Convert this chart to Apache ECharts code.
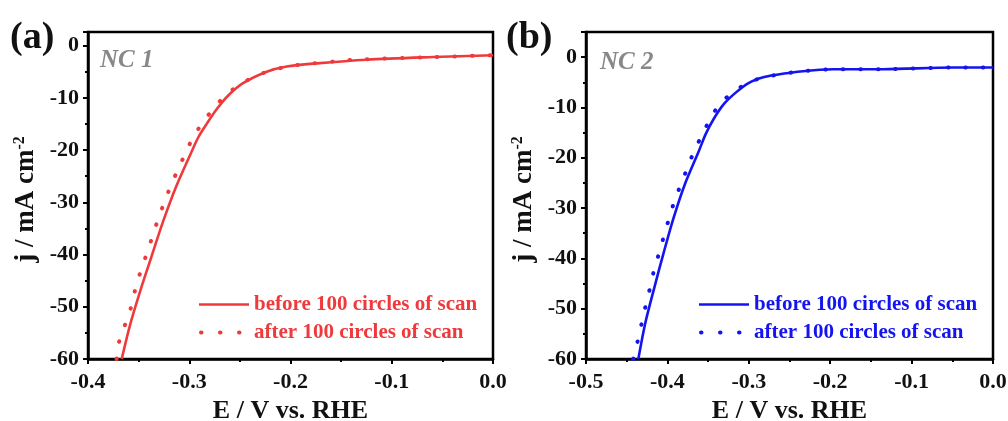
<!DOCTYPE html>
<html lang="en">
<head>
    <meta charset="UTF-8">
    <title>HER stability NC 1 / NC 2</title>
    <script src="https://cdn.jsdelivr.net/npm/echarts@6/dist/echarts.min.js"></script>
</head>
<body style="margin:0;background:#fff;">
<div id="main" style="width: 1008px;height:421px;"></div>
<script type="text/javascript">
    // NC 1, before 100 circles (solid)
    var nc1BeforeE = [-0.3667, -0.3585, -0.3483, -0.3373, -0.3259, -0.3134, -0.2988, -0.2909, -0.2820, -0.2726, -0.2617, -0.2469, -0.2235, -0.2037, -0.1741, -0.1247, -0.0593, 0.0];
    var nc1BeforeJ = [-60.0, -53.5, -46.9, -40.4, -33.7, -27.2, -20.8, -17.5, -14.75, -12.1, -9.6, -7.2, -5.0, -4.0, -3.4, -2.7, -2.2, -1.85];
    // NC 1, after 100 circles (dotted)
    var nc1AfterE = [-0.3717, -0.3694, -0.3635, -0.3578, -0.3536, -0.3486, -0.3430, -0.3371, -0.3316, -0.3256, -0.3190, -0.3118, -0.3042, -0.2960, -0.2867, -0.2762, -0.2644, -0.2482, -0.2235, -0.2071, -0.1923, -0.1577, -0.1412, -0.0593, 0.0];
    var nc1AfterJ = [-60.0, -56.8, -53.5, -50.3, -46.9, -43.6, -40.4, -37.0, -33.7, -30.5, -27.2, -24.0, -20.8, -17.5, -14.75, -12.1, -9.6, -7.2, -5.0, -4.2, -3.7, -3.06, -2.74, -2.2, -1.85];
    // NC 2, before 100 circles (solid)
    var nc2BeforeE = [-0.4357, -0.4272, -0.4162, -0.4048, -0.3925, -0.3784, -0.3612, -0.3530, -0.3428, -0.3305, -0.3157, -0.2998, -0.2822, -0.2657, -0.2371, -0.1966, -0.1350, -0.0490, 0.0];
    var nc2BeforeJ = [-60.0, -52.9, -45.9, -39.0, -32.0, -25.2, -18.6, -15.3, -12.2, -9.3, -7.0, -5.1, -4.0, -3.5, -2.86, -2.4, -2.39, -2.07, -2.07];
    // NC 2, after 100 circles (dotted)
    var nc2AfterE = [-0.4420, -0.4365, -0.4316, -0.4267, -0.4214, -0.4165, -0.4103, -0.4042, -0.3980, -0.3915, -0.3837, -0.3756, -0.3670, -0.3571, -0.3468, -0.3345, -0.3190, -0.3006, -0.2822, -0.2657, -0.2371, -0.1966, -0.1350, -0.0490, 0.0];
    var nc2AfterJ = [-60.0, -56.4, -52.9, -49.4, -45.9, -42.4, -39.0, -35.5, -32.1, -28.7, -25.4, -22.1, -18.6, -15.4, -12.1, -9.1, -7.0, -5.05, -4.06, -3.5, -2.86, -2.4, -2.39, -2.07, -2.07];

    var seriesNames = ['before 100 circles of scan', 'after 100 circles of scan'];
    var panelNames = ['NC 1', 'NC 2'];
    var yTicks = [-60, -50, -40, -30, -20, -10, 0];

    var RED = '#ef3a3c';
    var BLUE = '#1414f0';
    var FONT = 'Liberation Serif';
    var DOTS = [0.5, 17];

    function pairs(xs, ys) {
        var out = [];
        for (var i = 0; i < xs.length; i++) {
            out.push([xs[i], ys[i]]);
        }
        return out;
    }

    function xAxisOpt(idx, min) {
        return {
            type: 'value', gridIndex: idx, min: min, max: 0, interval: 0.1,
            name: 'E / V vs. RHE', nameLocation: 'middle', nameGap: 25,
            nameTextStyle: {fontFamily: FONT, fontWeight: 'bold', fontSize: 26, color: '#111'},
            axisLine: {onZero: false, lineStyle: {color: '#000', width: 2.5}},
            axisTick: {inside: false, length: 5, lineStyle: {color: '#000', width: 2}},
            minorTick: {show: true, splitNumber: 2, length: 3, lineStyle: {color: '#000', width: 2}},
            splitLine: {show: false},
            axisLabel: {
                margin: 12, fontFamily: FONT, fontWeight: 'bold', fontSize: 22, color: '#111',
                formatter: function (v) { return v.toFixed(1); }
            }
        };
    }

    function yAxisOpt(idx, max) {
        return {
            type: 'value', gridIndex: idx, min: -60, max: max, interval: 10,
            name: '{n|j / mA cm}{s|-2}', nameLocation: 'middle', nameGap: 48,
            nameTextStyle: {
                fontFamily: FONT, fontWeight: 'bold', fontSize: 27, color: '#111',
                padding: [0, 8, 0, 0],
                rich: {
                    n: {fontFamily: FONT, fontWeight: 'bold', fontSize: 27, color: '#111'},
                    s: {fontFamily: FONT, fontWeight: 'bold', fontSize: 16, color: '#111', padding: [0, 0, 12, 0]}
                }
            },
            axisLine: {onZero: false, lineStyle: {color: '#000', width: 2.5}},
            axisTick: {inside: false, length: 5, lineStyle: {color: '#000', width: 2}},
            minorTick: {show: true, splitNumber: 2, length: 3, lineStyle: {color: '#000', width: 2}},
            splitLine: {show: false},
            axisLabel: {
                margin: 9, fontFamily: FONT, fontWeight: 'bold', fontSize: 22, color: '#111',
                showMaxLabel: false,
                formatter: function (v) { return yTicks.indexOf(Math.round(v)) >= 0 && Math.abs(v - Math.round(v)) < 1e-6 ? String(Math.round(v)) : ''; }
            }
        };
    }

    function lineSeries(name, idx, data, color, dotted) {
        return {
            name: name, type: 'line', xAxisIndex: idx, yAxisIndex: idx,
            data: data, symbol: 'none', smooth: 0.3, z: dotted ? 3 : 2,
            lineStyle: dotted
                ? {color: color, width: 4, type: DOTS, cap: 'round'}
                : {color: color, width: 2.6},
            itemStyle: {color: color}
        };
    }

    function legendOpt(left, suffix, color) {
        return {
            orient: 'vertical', left: left, top: 294, padding: 0,
            itemWidth: 50, itemHeight: 14, itemGap: 7,
            data: [
                {name: seriesNames[0] + suffix, lineStyle: {width: 2.6}},
                {name: seriesNames[1] + suffix, lineStyle: {width: 4, type: [0.5, 18.5], cap: 'round', dashOffset: -2}}
            ],
            formatter: function (n) { return n.split('|')[0]; },
            itemStyle: {opacity: 0},
            textStyle: {fontFamily: FONT, fontWeight: 'bold', fontSize: 21, color: color}
        };
    }

    var chartDom = document.getElementById('main');
    var myChart = echarts.init(chartDom);
    var option;

    option = {
        backgroundColor: '#fff',
        animation: false,
        title: [
            {text: '(a)', left: 10, top: 19, padding: 0, textStyle: {fontFamily: FONT, fontWeight: 'bold', fontSize: 38, color: '#111'}},
            {text: '(b)', left: 506, top: 19, padding: 0, textStyle: {fontFamily: FONT, fontWeight: 'bold', fontSize: 38, color: '#111'}},
            {text: panelNames[0], left: 100, top: 48, padding: 0, textStyle: {fontFamily: FONT, fontWeight: 'bold', fontStyle: 'italic', fontSize: 25, color: '#888'}},
            {text: panelNames[1], left: 600, top: 50, padding: 0, textStyle: {fontFamily: FONT, fontWeight: 'bold', fontStyle: 'italic', fontSize: 25, color: '#888'}}
        ],
        grid: [
            {left: 88, right: 515, top: 32, bottom: 62, containLabel: false, outerBoundsMode: 'none', show: true, borderColor: '#000', borderWidth: 2.5},
            {left: 586, right: 15, top: 32, bottom: 62, containLabel: false, outerBoundsMode: 'none', show: true, borderColor: '#000', borderWidth: 2.5}
        ],
        xAxis: [xAxisOpt(0, -0.4), xAxisOpt(1, -0.5)],
        yAxis: [yAxisOpt(0, 2.6), yAxisOpt(1, 5)],
        legend: [legendOpt(197, '|a', RED), legendOpt(697, '|b', BLUE)],
        series: [
            lineSeries(seriesNames[0] + '|a', 0, pairs(nc1BeforeE, nc1BeforeJ), RED, false),
            lineSeries(seriesNames[1] + '|a', 0, pairs(nc1AfterE, nc1AfterJ), RED, true),
            lineSeries(seriesNames[0] + '|b', 1, pairs(nc2BeforeE, nc2BeforeJ), BLUE, false),
            lineSeries(seriesNames[1] + '|b', 1, pairs(nc2AfterE, nc2AfterJ), BLUE, true)
        ]
    };

    option && myChart.setOption(option);
    window.addEventListener("resize", function () {
        myChart.resize();
    });
</script>
</body>
</html>
